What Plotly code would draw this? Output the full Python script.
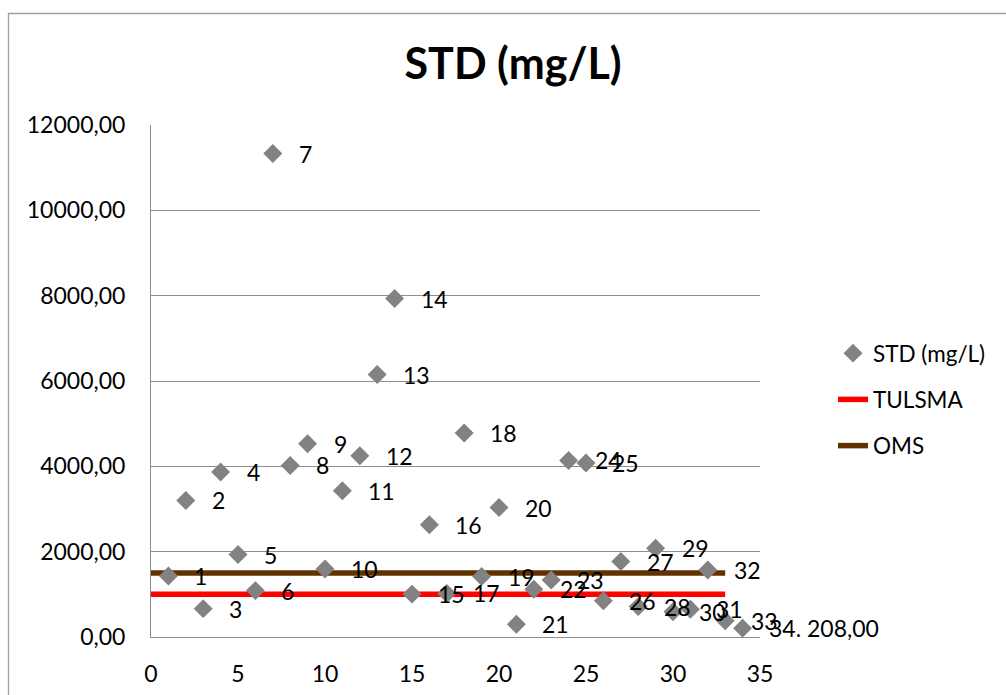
import plotly.graph_objects as go

# Sample numbers (x) and total dissolved solids in mg/L (y)
samples = list(range(1, 35))
std_mg_l = [1430, 3200, 665, 3866, 1932, 1087, 11330, 4021, 4530, 1596,
            3427, 4248, 6150, 7933, 1005, 2629, 1020, 4781, 1416, 3035,
            297, 1119, 1338, 4138, 4076, 852, 1768, 712, 2081, 594,
            649, 1572, 383, 208]

# Regulatory limits drawn as horizontal reference lines
limit_x = [0, 33]
tulsma = [1000, 1000]
oms = [1500, 1500]

x_ticks = [0, 5, 10, 15, 20, 25, 30, 35]
y_ticks = [0, 2000, 4000, 6000, 8000, 10000, 12000]


def fmt_es(v):
    return f"{v:.2f}".replace(".", ",")


# Point labels: sample number, the last one also carries its value
point_labels = [str(s) for s in samples]
point_labels[-1] = f"{samples[-1]}. {fmt_es(std_mg_l[-1])}"

FONT = "Lato, 'Open Sans', sans-serif"
W, H = 1006, 695
ML, MR, MT, MB = 151, 246, 125, 58
plot_w = W - ML - MR
plot_h = H - MT - MB

fig = go.Figure()

fig.add_trace(go.Scatter(
    x=limit_x, y=tulsma, mode="lines", name="TULSMA",
    line=dict(color="#FF0000", width=5.5),
    legendgroup="b", legendrank=2, hoverinfo="skip",
))
fig.add_trace(go.Scatter(
    x=limit_x, y=oms, mode="lines", name="OMS",
    line=dict(color="#623100", width=5.5),
    legendgroup="c", legendrank=3, hoverinfo="skip",
))
fig.add_trace(go.Scatter(
    x=samples, y=std_mg_l, mode="markers", name="STD (mg/L)",
    marker=dict(symbol="diamond", size=14.6, color="#828282",
                line=dict(width=0)),
    legendgroup="a", legendrank=1,
))

for s, v, lab in zip(samples, std_mg_l, point_labels):
    fig.add_annotation(
        x=s, y=v, xref="x", yref="y", text=lab, showarrow=False,
        xanchor="left", yanchor="middle", xshift=24,
        font=dict(family=FONT, size=23, color="#000000"),
    )

# Outer chart frame
fig.add_shape(
    type="rect", xref="paper", yref="paper",
    x0=(8.5 - ML) / plot_w, x1=(W + 20 - ML) / plot_w,
    y0=-(MB + 20) / plot_h, y1=(H - MB - 13.5) / plot_h,
    line=dict(color="#A0A0A0", width=1.3), fillcolor="rgba(0,0,0,0)",
    layer="below",
)

grid = "#8E8E8E"
fig.update_layout(
    width=W, height=H,
    margin=dict(l=ML, r=MR, t=MT, b=MB, autoexpand=False),
    paper_bgcolor="white", plot_bgcolor="white",
    separators=",.",
    title=dict(text="<b>STD (mg/L)</b>", x=0.51, xanchor="center",
               y=1 - 64 / H, yanchor="middle", yref="container",
               font=dict(family=FONT, size=43, color="#000000")),
    font=dict(family=FONT, size=23, color="#000000"),
    showlegend=True,
    legend=dict(x=(833 - ML) / plot_w, xanchor="left",
                y=(H - MB - 332) / plot_h, yanchor="top",
                font=dict(family=FONT, size=22.5, color="#000000"),
                tracegroupgap=14, bgcolor="rgba(0,0,0,0)"),
    xaxis=dict(range=[0, 35], tickvals=x_ticks, ticktext=[str(t) for t in x_ticks],
               showgrid=False, zeroline=False, showline=True, linecolor=grid,
               linewidth=1, ticks="", ticklabelstandoff=16,
               tickfont=dict(family=FONT, size=23, color="#000000")),
    yaxis=dict(range=[0, 12000], tickvals=y_ticks, tickformat=".2f",
               showgrid=True, gridcolor=grid, gridwidth=1, zeroline=False,
               showline=True, linecolor=grid, linewidth=1, ticks="",
               ticklabelstandoff=20,
               tickfont=dict(family=FONT, size=23, color="#000000")),
)

fig.write_html("out.html")
